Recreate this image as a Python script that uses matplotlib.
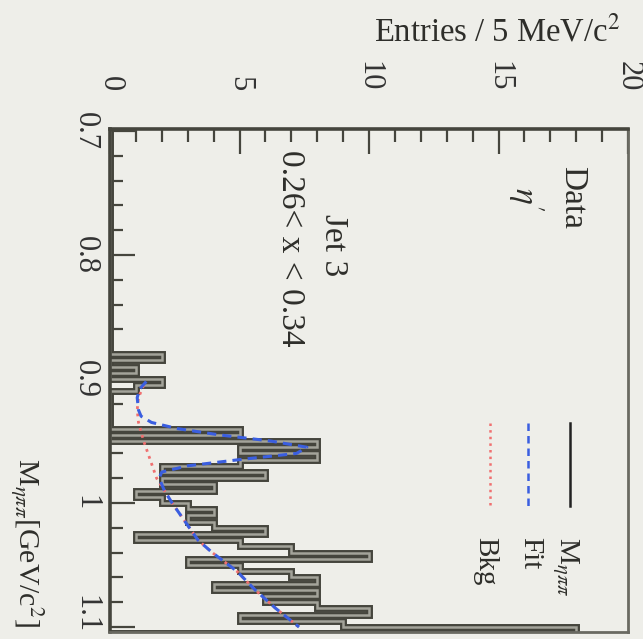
import matplotlib
matplotlib.use('Agg')
import matplotlib.pyplot as plt
import matplotlib.patheffects as pe
from matplotlib.lines import Line2D
from matplotlib.transforms import ScaledTranslation
import numpy as np

plt.rcParams['font.family'] = ['Liberation Serif', 'DejaVu Serif']
plt.rcParams['mathtext.fontset'] = 'stix'

# ---------------- data ----------------
bin_start = 0.700          # GeV/c^2
bin_width = 0.005          # 5 MeV/c^2
counts = ([0] * 36 +
          [2, 0, 1, 0, 2, 1] +
          [0, 0, 0, 0, 0, 0] +
          [5, 0, 8, 5, 8, 5, 2, 6, 2, 4, 1, 2, 3, 4, 3, 4, 6, 1, 5, 7,
           10, 3, 5, 7, 8, 4, 8, 6, 8, 10, 5, 9, 18])

fit_mass = [0.902, 0.908, 0.915, 0.925, 0.930, 0.935, 0.940, 0.945, 0.950,
            0.955, 0.960, 0.965, 0.970, 0.975, 0.980, 0.990, 1.000, 1.015,
            1.030, 1.040, 1.055, 1.070, 1.085, 1.100]
fit_val = [1.4, 1.15, 1.05, 1.1, 1.2, 1.6, 2.6, 4.2, 6.2,
           7.6, 7.2, 5.0, 3.0, 2.0, 1.9, 2.1, 2.4, 2.9,
           3.4, 3.95, 4.9, 5.6, 6.4, 7.3]

bkg_mass = [0.905, 0.915, 0.925, 0.935, 0.950, 0.965, 0.980, 0.990, 1.000,
            1.015, 1.030, 1.040, 1.055, 1.070, 1.085, 1.100]
bkg_val = [1.3, 1.1, 1.05, 1.1, 1.3, 1.55, 1.8, 2.1, 2.4,
           2.9, 3.4, 3.95, 4.9, 5.6, 6.4, 7.3]

entry_ticks = [0, 5, 10, 15, 20]
entry_labels = ['0', '5', '10', '15', '20']
mass_ticks = [0.7, 0.8, 0.9, 1.0, 1.1]
mass_labels = ['0.7', '0.8', '0.9', '1', '1.1']

# ---------------- figure ----------------
W, H = 643, 639
fig = plt.figure(figsize=(W / 100, H / 100), dpi=100, facecolor='#eeeee9')

def fx(px):
    return px / W

def fy(py):
    return 1 - py / H

ax = fig.add_axes([fx(110), fy(632), fx(628) - fx(110), fy(129) - fy(632)])
ax.set_facecolor('#eeeee9')

edges = bin_start + bin_width * np.arange(len(counts) + 1)
st = ax.stairs(counts, edges, orientation='horizontal', baseline=0,
               color='#a3a39a', lw=1.8, zorder=2)
st.set_path_effects([pe.Stroke(linewidth=5.0, foreground='#45453d'), pe.Normal()])

ax.plot(bkg_val, bkg_mass, color='#f07070', ls=':', lw=2.0, zorder=3)
ax.plot(fit_val, fit_mass, color='#3a5ee0', ls=(0, (3, 2)), lw=2.2, zorder=4)

ax.set_xlim(0, 20)
ax.set_ylim(1.104, 0.6984)

ax.xaxis.tick_top()
ax.set_xticks(entry_ticks)
ax.set_xticklabels(entry_labels)
ax.set_xticks(np.arange(0, 21, 1), minor=True)
ax.set_yticks(mass_ticks)
ax.set_yticklabels(mass_labels)
ax.set_yticks(np.arange(0.70, 1.1001, 0.02), minor=True)

ax.tick_params(which='both', direction='in', color='#45453d', width=1.6,
               top=True, bottom=False, left=True, right=False,
               labeltop=True, labelbottom=False, labelleft=True, labelright=False)
ax.tick_params(which='major', length=18)
ax.tick_params(which='minor', length=9)
ax.tick_params(axis='x', which='major', labelrotation=-90, pad=27,
               labelsize=22, labelcolor='#333333')
ax.tick_params(axis='y', which='major', labelrotation=-90, pad=7,
               labelsize=22, labelcolor='#333333')
ylabs = ax.get_yticklabels()
for lab in ylabs:
    lab.set_va('center')
ylabs[-1].set_transform(ylabs[-1].get_transform() +
                        ScaledTranslation(0, 9 / 72, fig.dpi_scale_trans))

for s in ['left', 'top']:
    ax.spines[s].set_linewidth(2.6)
    ax.spines[s].set_color('#45453d')
for s in ['right', 'bottom']:
    ax.spines[s].set_linewidth(2.0)
    ax.spines[s].set_color('#6a6a62')

tc = '#2e2e2a'
fig.text(fx(620), fy(32), r'Entries / 5 MeV/c$^2$', ha='right', va='center',
         fontsize=23.5, color=tc)
fig.text(fx(26), fy(627), r'M$_{\eta\pi\pi}$[GeV/c$^2$]', rotation=-90,
         ha='center', va='bottom', fontsize=21.5, color=tc)

fs = 24
fig.text(fx(290), fy(248), '0.26< x < 0.34', rotation=-90, ha='center',
         va='center', fontsize=fs, color=tc)
fig.text(fx(333), fy(245), 'Jet 3', rotation=-90, ha='center', va='center',
         fontsize=fs, color=tc)
fig.text(fx(572), fy(198), 'Data', rotation=-90, ha='center', va='center',
         fontsize=fs, color=tc)
fig.text(fx(526), fy(199), r'$\eta^{\prime}$', rotation=-90, ha='center',
         va='center', fontsize=fs, color=tc)

# legend
leg = [('M$_{\\eta\\pi\\pi}$', '#222222', '-', 570, 565),
       ('Fit', '#3a5ee0', (0, (3, 2)), 528, 530),
       ('Bkg', '#f07070', ':', 490, 485)]
for lab, col, ls, lx, tx in leg:
    fig.add_artist(Line2D([fx(lx), fx(lx)], [fy(423), fy(506)],
                          transform=fig.transFigure, color=col, ls=ls, lw=1.8))
    fig.text(fx(tx), fy(537), lab, rotation=-90, ha='center', va='top',
             fontsize=21, color=tc)

fig.savefig('out.png', dpi=100, facecolor=fig.get_facecolor())
